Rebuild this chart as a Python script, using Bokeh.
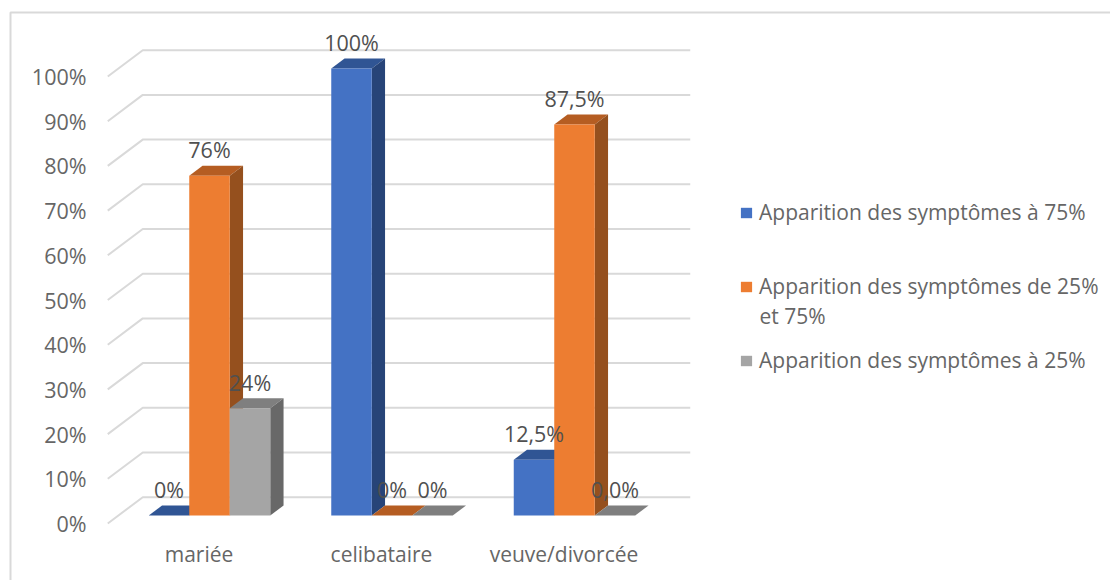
from bokeh.plotting import figure
from bokeh.models import FixedTicker, Legend, LegendItem, LinearAxis, Range1d
from bokeh.core.properties import value
from bokeh.embed import file_html
from bokeh.resources import INLINE

categories = ["mariée", "celibataire", "veuve/divorcée"]
series_names = ["Apparition des symptômes à 75%",
                "Apparition des symptômes de 25%",
                "Apparition des symptômes à 25%"]
legend_wrap = "et 75%"
values_75 = [0, 100, 12.5]
values_25_75 = [76, 0, 87.5]
values_25 = [24, 0, 0]
labels_75 = ["0%", "100%", "12,5%"]
labels_25_75 = ["76%", "0%", "87,5%"]
labels_25 = ["24%", "0%", "0,0%"]
y_ticks = [0, 10, 20, 30, 40, 50, 60, 70, 80, 90, 100]

FONT = "Open Sans"
GRID = "#d9d9d9"
front = ["#4472c4", "#ed7d31", "#a5a5a5"]
top = ["#305594", "#b55d22", "#7f7f7f"]
side = ["#274478", "#95501e", "#686868"]

W, H = 1110, 580
PX_X, PX_Y = 182.5, 4.47           # px per category / per percent
ZERO_X, ZERO_Y = 198.5, 523        # px position of the first category and of 0 %
bar_w = 40.5 / PX_X
depth_dx, depth_dy = 13.3 / PX_X, 10 / PX_Y
base_y = 8 / PX_Y                  # floor offset of the bars above the front edge
wall_dx, wall_dy = 35 / PX_X, 26.3 / PX_Y
shift_x = 10.5 / PX_X

x_lo = -ZERO_X / PX_X
y_lo = -(H - ZERO_Y) / PX_Y
p = figure(width=W, height=H, output_backend="svg", toolbar_location=None,
           x_range=Range1d(x_lo, x_lo + W / PX_X),
           y_range=Range1d(y_lo, y_lo + H / PX_Y),
           x_axis_location=None, y_axis_location=None,
           min_border_left=0, min_border_right=0, min_border_top=0, min_border_bottom=0,
           background_fill_color="white", border_fill_color="white", outline_line_color=None)
p.grid.visible = False

yaxis = LinearAxis(fixed_location=x_lo + 92 / PX_X)
xaxis = LinearAxis(fixed_location=y_lo + (H - 533) / PX_Y)
p.add_layout(yaxis, "left")
p.add_layout(xaxis, "below")
for ax, ticks, over, size in (
    (yaxis, y_ticks, {t: f"{t}%" for t in y_ticks}, "21.5px"),
    (xaxis, [0, 1, 2], dict(enumerate(categories)), "21px"),
):
    ax.ticker = FixedTicker(ticks=ticks)
    ax.major_label_overrides = over
    ax.axis_line_color = None
    ax.major_tick_line_color = None
    ax.minor_tick_line_color = None
    ax.major_label_text_font = FONT
    ax.major_label_text_font_size = size
    ax.major_label_text_color = "#666666"
yaxis.major_label_standoff = 0
xaxis.major_label_standoff = 0

# chart frame: left and top edges
p.line([x_lo + 10 / PX_X, x_lo + 10 / PX_X, x_lo + W / PX_X],
       [y_lo, y_lo + (H - 12) / PX_Y, y_lo + (H - 12) / PX_Y],
       line_color=GRID, line_width=2)

x0, x1 = -0.5, 2.5
p.multi_line([[x0, x0 + wall_dx, x1 + wall_dx] for _ in y_ticks],
             [[t, t + wall_dy, t + wall_dy] for t in y_ticks],
             line_color=GRID, line_width=2)

all_vals = [values_75, values_25_75, values_25]
all_labels = [labels_75, labels_25_75, labels_25]
legend_rs = []
for s, vals in enumerate(all_vals):
    centers = [i + shift_x + (s - 1) * bar_w for i in range(len(vals))]
    tops = [base_y + v for v in vals]
    hw = bar_w / 2
    p.patches([[c - hw, c + hw, c + hw + depth_dx, c - hw + depth_dx] for c in centers],
              [[t, t, t + depth_dy, t + depth_dy] for t in tops],
              fill_color=top[s], line_color=None)
    p.patches([[c + hw, c + hw + depth_dx, c + hw + depth_dx, c + hw] for c in centers],
              [[base_y, base_y + depth_dy, t + depth_dy, t] for t in tops],
              fill_color=side[s], line_color=None)
    r = p.vbar(x=centers, bottom=base_y, top=tops, width=bar_w,
               fill_color=front[s], line_color=None)
    legend_rs.append(r)

for s, (vals, labs) in enumerate(zip(all_vals, all_labels)):
    centers = [i + shift_x + (s - 1) * bar_w for i in range(len(vals))]
    p.text(x=centers, y=[base_y + v for v in vals], text=labs, x_offset=0, y_offset=-26,
           text_align="center", text_baseline="middle",
           text_font=value(FONT), text_font_size="21.5px", text_color="#505050")

for s, row_y in enumerate([212, 286, 360]):
    p.add_layout(Legend(items=[LegendItem(label=series_names[s], renderers=[legend_rs[s]])],
                        location=(739, H - row_y - 14), orientation="vertical",
                        padding=0, margin=0, spacing=0,
                        border_line_color=None, background_fill_alpha=0,
                        glyph_width=14, glyph_height=13, label_standoff=6,
                        label_text_font=FONT, label_text_font_size="21px",
                        label_text_color="#666666"), "center")
p.text(x=[x_lo + 759 / PX_X], y=[y_lo + (H - 315) / PX_Y], text=[legend_wrap],
       text_align="left", text_baseline="middle",
       text_font=value(FONT), text_font_size="21px", text_color="#666666")

open("out.html", "w").write(file_html(p, INLINE))
